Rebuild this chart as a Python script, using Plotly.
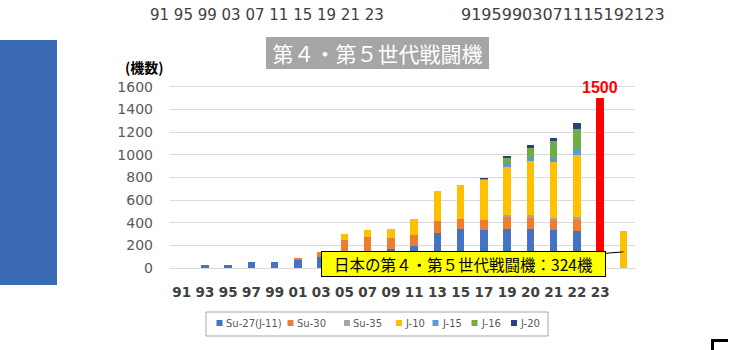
import plotly.graph_objects as go

# ---- data -------------------------------------------------------------
years = ["91", "93", "95", "97", "99", "01", "03", "05", "07", "09",
         "11", "13", "15", "17", "19", "20", "21", "22", "23"]

# China's 4th/5th generation fighters by type (years 91..22)
su27 = [0, 24, 24, 50, 50, 74, 100, 100, 120, 171, 198, 310, 343, 331, 346, 346, 331, 328]
su30 = [0, 0, 0, 0, 0, 17, 45, 148, 152, 98, 95, 101, 92, 95, 100, 95, 89, 98]
su35 = [0, 0, 0, 0, 0, 0, 0, 0, 0, 0, 0, 0, 0, 0, 24, 24, 24, 24]
j10 = [0, 0, 0, 0, 0, 0, 0, 54, 59, 77, 142, 266, 295, 352, 423, 478, 493, 550]
j15 = [0, 0, 0, 0, 0, 0, 0, 0, 0, 0, 0, 0, 0, 0, 30, 24, 36, 53]
j16 = [0, 0, 0, 0, 0, 0, 0, 0, 0, 0, 0, 0, 0, 8, 56, 89, 148, 171]
j20 = [0, 0, 0, 0, 0, 0, 0, 0, 0, 0, 0, 0, 0, 4, 8, 26, 29, 54]

series_names = ["Su-27(J-11)", "Su-30", "Su-35", "J-10", "J-15", "J-16", "J-20"]
series_values = [su27, su30, su35, j10, j15, j16, j20]
series_colors = ["#4472C4", "#ED7D31", "#A5A5A5", "#FFC000", "#5B9BD5", "#70AD47", "#264478"]

china_2023 = [1500]
japan_total = [324]

# ---- figure geometry ---------------------------------------------------
W_FIG, H_FIG = 746, 350
M_L, M_R, M_T, M_B = 170, 111, 81, 82
PLOT_W = W_FIG - M_L - M_R
PLOT_H = H_FIG - M_T - M_B
BOTTOM = M_T + PLOT_H


def px_x(px):
    return (px - M_L) / PLOT_W


def px_y(py):
    return (BOTTOM - py) / PLOT_H


BAR_W = 0.32
JP = "Noto Sans CJK JP"

fig = go.Figure()

x_years = list(range(len(su27)))
for name, vals, col in zip(series_names, series_values, series_colors):
    fig.add_trace(go.Bar(x=x_years, y=vals, name=name, width=BAR_W,
                         marker=dict(color=col, line=dict(width=0)),
                         showlegend=False))

# 2023 total (red) and Japan's total (yellow)
fig.add_trace(go.Bar(x=[len(years) - 1], y=china_2023, width=BAR_W,
                     marker=dict(color="#FF0000", line=dict(width=0)),
                     showlegend=False))
fig.add_trace(go.Bar(x=[len(years)], y=japan_total, width=BAR_W,
                     marker=dict(color="#FFC000", line=dict(width=0)),
                     showlegend=False))

annotations = []
shapes = []

# value label over the red bar
annotations.append(dict(x=len(years) - 1, y=china_2023[0], xref="x", yref="y",
                        text="<b>%d</b>" % china_2023[0], showarrow=False,
                        yanchor="bottom", yshift=0,
                        font=dict(family="Liberation Sans", size=16, color="#FF0000")))

# callout for Japan
annotations.append(dict(x=len(years), y=142, xref="x", yref="y",
                        text="日本の第４・第５世代戦闘機：%d機" % japan_total[0],
                        showarrow=True, arrowhead=0, arrowwidth=1, arrowcolor="#000000",
                        axref="pixel", ayref="pixel", ax=-160, ay=12, standoff=0,
                        bgcolor="#FFFF00", bordercolor="#000000", borderwidth=1,
                        borderpad=0, width=283, height=24,
                        font=dict(family=JP, size=15.5, color="#000000")))

# chart title in grey box
annotations.append(dict(x=px_x(377.5), y=px_y(53), xref="paper", yref="paper",
                        text="第４・第５世代戦闘機", showarrow=False,
                        xanchor="center", yanchor="middle",
                        bgcolor="#A6A6A6", borderpad=0, borderwidth=0,
                        width=223, height=32,
                        font=dict(family=JP, size=21, color="#FFFFFF")))

# unit label
annotations.append(dict(x=px_x(144), y=px_y(67), xref="paper", yref="paper",
                        text="<b>(機数)</b>", showarrow=False,
                        xanchor="center", yanchor="middle",
                        font=dict(family=JP, size=14, color="#000000")))

# year strips above the chart
annotations.append(dict(x=px_x(266.5), y=px_y(15), xref="paper", yref="paper",
                        text="91 95 99 03 07 11 15 19 21 23", showarrow=False,
                        xanchor="center", yanchor="middle",
                        font=dict(family="DejaVu Sans", size=15, color="#404040")))
annotations.append(dict(x=px_x(562.5), y=px_y(15), xref="paper", yref="paper",
                        text="91959903071115192123", showarrow=False,
                        xanchor="center", yanchor="middle",
                        font=dict(family="DejaVu Sans", size=16, color="#404040")))

# legend box
shapes.append(dict(type="rect", xref="paper", yref="paper",
                   x0=px_x(206), x1=px_x(548), y0=px_y(336), y1=px_y(312),
                   line=dict(color="#A6A6A6", width=1), fillcolor="#FFFFFF", layer="above"))
legend_left = [216.5, 287.5, 344, 396, 432.5, 471.5, 511]
for lx, name, col in zip(legend_left, series_names, series_colors):
    shapes.append(dict(type="rect", xref="paper", yref="paper",
                       x0=px_x(lx), x1=px_x(lx + 6), y0=px_y(326), y1=px_y(320),
                       line=dict(width=0), fillcolor=col, layer="above"))
    annotations.append(dict(x=px_x(lx + 7), y=px_y(323), xref="paper", yref="paper",
                            text=name, showarrow=False, xanchor="left", yanchor="middle",
                            font=dict(family="DejaVu Sans", size=10, color="#595959")))

# blue panel on the left
shapes.append(dict(type="rect", xref="paper", yref="paper",
                   x0=px_x(0), x1=px_x(57), y0=px_y(285), y1=px_y(40),
                   line=dict(width=0), fillcolor="#3B6BB5", layer="above"))

# corner mark bottom right
shapes.append(dict(type="rect", xref="paper", yref="paper",
                   x0=px_x(711), x1=px_x(728), y0=px_y(342), y1=px_y(339),
                   line=dict(width=0), fillcolor="#000000", layer="above"))
shapes.append(dict(type="rect", xref="paper", yref="paper",
                   x0=px_x(711), x1=px_x(714), y0=px_y(350), y1=px_y(339),
                   line=dict(width=0), fillcolor="#000000", layer="above"))

fig.update_layout(
    width=W_FIG, height=H_FIG,
    margin=dict(l=M_L, r=M_R, t=M_T, b=M_B),
    paper_bgcolor="#FFFFFF", plot_bgcolor="#FFFFFF",
    barmode="stack", showlegend=False,
    annotations=annotations, shapes=shapes,
    xaxis=dict(range=[-0.5, len(years) + 0.5],
               tickvals=list(range(len(years))), ticktext=years,
               showgrid=False, zeroline=False, showline=False, ticks="",
               ticklabelstandoff=14,
               tickfont=dict(family="DejaVu Sans", size=13.5, color="#404040", weight="bold")),
    yaxis=dict(range=[0, 1650], tickvals=list(range(0, 1601, 200)),
               showgrid=True, gridcolor="#D9D9D9", gridwidth=1,
               zeroline=True, zerolinecolor="#D9D9D9", zerolinewidth=1,
               showline=False, ticks="", ticklabelstandoff=16,
               tickfont=dict(family="DejaVu Sans", size=14, color="#595959")),
)

fig.write_html("out.html")
